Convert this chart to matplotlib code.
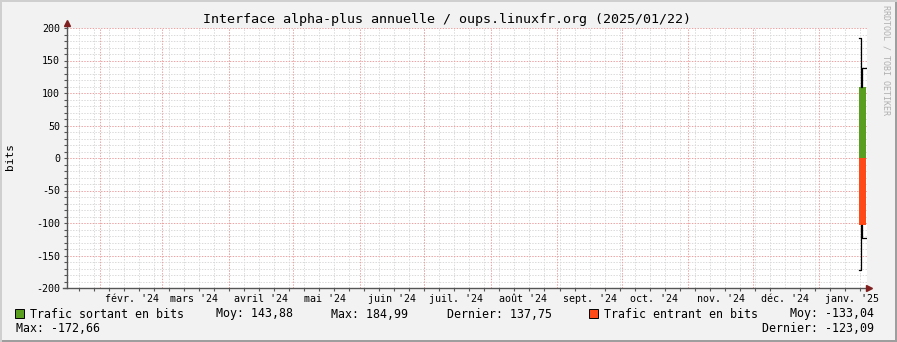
import pandas as pd
import numpy as np
import matplotlib
matplotlib.use("Agg")
import matplotlib.pyplot as plt
import matplotlib.dates as mdates
from matplotlib.patches import Rectangle

# === DONNÉES ===
titre = "Interface alpha-plus annuelle / oups.linuxfr.org (2025/01/22)"
t_debut = pd.Timestamp("2024-01-16 15:00")
t_fin = pd.Timestamp("2025-01-23 05:00")

# pas de mesure (bords des marches)
t_pas = pd.to_datetime(["2025-01-19 12:00", "2025-01-20 06:00",
                        "2025-01-21 00:00", "2025-01-22 18:00"])
sortant_ligne = [184.99, 108.7, 137.75]
sortant_aire = [109.5, 109.5, 109.5]
entrant_ligne = [-172.66, -103.0, -123.09]
entrant_aire = [-103.0, -103.0, -103.0]

mois_debuts = pd.date_range("2024-02-01", "2025-01-01", freq="MS")
mois_labels = ["févr. '24", "mars '24", "avril '24", "mai '24", "juin '24",
               "juil. '24", "août '24", "sept. '24", "oct. '24", "nov. '24",
               "déc. '24", "janv. '25"]
semaines = pd.date_range("2024-01-22", "2025-01-20", freq="7D")
y_ticks = [-200, -150, -100, -50, 0, 50, 100, 150, 200]

legende_ligne1 = [(30, "Trafic sortant en bits"), (216, "Moy: 143,88"),
                  (331, "Max: 184,99"), (447, "Dernier: 137,75"),
                  (604, "Trafic entrant en bits"), (790, "Moy: -133,04")]
legende_ligne2 = [(16, "Max: -172,66"), (762, "Dernier: -123,09")]

# === STYLE ===
W, H = 897, 342
vert = "#5A9E1F"
rouge = "#FF4A17"
c_grid = "#dadada"
c_mgrid = "#eea3a3"
c_axe = "#555555"
c_fleche = "#7F1F1F"
mono = "DejaVu Sans Mono"
dots = (0, (1.4, 1.4))

fig = plt.figure(figsize=(W / 100, H / 100), dpi=100, facecolor="#F2F2F2")
ax = fig.add_axes([67 / W, 1 - 288 / H, 800 / W, 260 / H])
ax.set_facecolor("white")
ax.set_xlim(mdates.date2num(t_debut), mdates.date2num(t_fin))
ax.set_ylim(-200, 200)
for s in ax.spines.values():
    s.set_visible(False)

# grille
for y in range(-190, 200, 10):
    if y % 50:
        ax.axhline(y, color=c_grid, lw=0.72, ls=dots, zorder=0)
for d in semaines:
    ax.axvline(mdates.date2num(d), color=c_grid, lw=0.72, ls=dots, zorder=0)
for y in y_ticks[1:]:
    ax.axhline(y, color=c_mgrid, lw=0.72, ls=dots, zorder=0.5)
for d in mois_debuts:
    ax.axvline(mdates.date2num(d), color=c_mgrid, lw=0.72, ls=dots, zorder=0.5)

# données
x = mdates.date2num(t_pas)
ax.fill_between(x, sortant_aire + [sortant_aire[-1]], 0, step="post",
                color=vert, lw=0, zorder=2)
ax.fill_between(x, entrant_aire + [entrant_aire[-1]], 0, step="post",
                color=rouge, lw=0, zorder=2)
ax.step(x, sortant_ligne + [sortant_ligne[-1]], where="post", color="black",
        lw=0.9, zorder=3)
ax.step(x, entrant_ligne + [entrant_ligne[-1]], where="post", color="black",
        lw=0.9, zorder=3)

# axes avec flèches
ax.plot([0, 0], [0, 1.015], transform=ax.transAxes, color=c_axe, lw=1,
        clip_on=False, zorder=4)
ax.plot([-0.005, 1.0], [0, 0], transform=ax.transAxes, color=c_axe, lw=1,
        clip_on=False, zorder=4)
ax.plot([0], [1.02], marker="^", ms=4, color=c_fleche, transform=ax.transAxes,
        clip_on=False, zorder=5)
ax.plot([1.003], [0], marker=">", ms=4, color=c_fleche, transform=ax.transAxes,
        clip_on=False, zorder=5)

# ticks
ax.set_yticks(y_ticks)
ax.set_yticklabels([str(v) for v in y_ticks], fontsize=7.2, family=mono)
ax.set_yticks(range(-190, 200, 10), minor=True)
ax.tick_params(axis="y", which="both", length=2, width=0.8, color=c_axe, pad=3)
pos_labels = [mdates.date2num(d + pd.Timedelta(days=15)) for d in mois_debuts]
ax.set_xticks(pos_labels)
ax.set_xticklabels(mois_labels, fontsize=7.2, family=mono)
ax.tick_params(axis="x", which="major", length=0, pad=4)
ax.set_xticks([mdates.date2num(d) for d in semaines], minor=True)
ax.tick_params(axis="x", which="minor", length=2, width=0.8, color=c_axe)

fig.text(10 / W, 1 - 157 / H, "bits", rotation=90, ha="center", va="center",
         fontsize=8, family=mono)

# titre et textes
fig.text(447 / W, 1 - 19 / H, titre, ha="center", va="center",
         fontsize=9.6, family=mono)
fig.text(886 / W, 1 - 5 / H, "RRDTOOL / TOBI OETIKER", rotation=270,
         ha="center", va="top", fontsize=6, family=mono, color="#b0b0b0")

for xp, txt in legende_ligne1:
    fig.text(xp / W, 1 - 314 / H, txt, ha="left", va="center",
             fontsize=8.4, family=mono)
for xp, txt in legende_ligne2:
    fig.text(xp / W, 1 - 328 / H, txt, ha="left", va="center",
             fontsize=8.4, family=mono)
for xp, c in [(15, vert), (589, rouge)]:
    fig.patches.append(Rectangle((xp / W, 1 - 318 / H), 9 / W, 9 / H,
                                 transform=fig.transFigure, facecolor=c,
                                 edgecolor="black", lw=0.7))

# cadre
fig.patches.append(Rectangle((0, 0), 1, 2 / H, transform=fig.transFigure,
                             facecolor="#9E9E9E", lw=0))
fig.patches.append(Rectangle((1 - 2 / W, 0), 2 / W, 1, transform=fig.transFigure,
                             facecolor="#9E9E9E", lw=0))
fig.patches.append(Rectangle((0, 1 - 2 / H), 1, 2 / H, transform=fig.transFigure,
                             facecolor="#CFCFCF", lw=0))
fig.patches.append(Rectangle((0, 0), 2 / W, 1, transform=fig.transFigure,
                             facecolor="#CFCFCF", lw=0))

fig.savefig("out.png", dpi=100, facecolor=fig.get_facecolor())
